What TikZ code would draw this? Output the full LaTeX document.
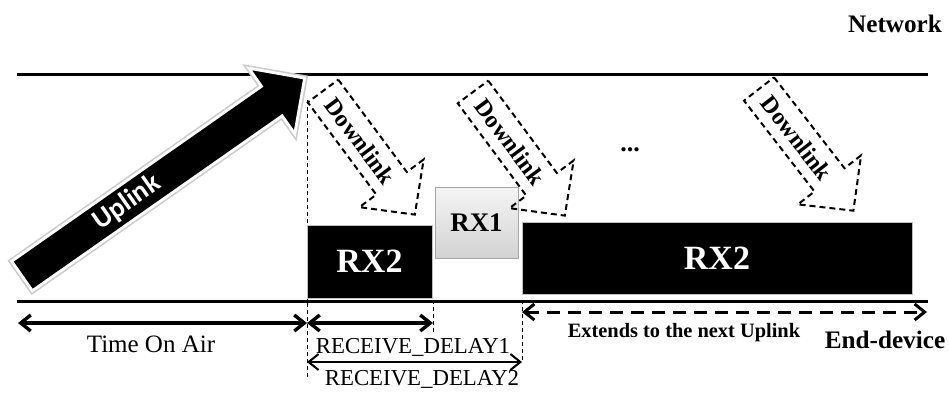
\documentclass[tikz,border=0pt]{standalone}
\usepackage{fontspec}
\setmainfont{Liberation Serif}
\newfontfamily\upfont{Carlito}
\usetikzlibrary{arrows.meta}

\tikzset{
  rxdark/.style={draw=gray!50, fill=black, text=white, inner sep=0pt, outer sep=0pt,
    font=\bfseries\fontsize{17}{17}\selectfont},
  rxlight/.style={draw=gray!70, top color=gray!8, bottom color=gray!35, inner sep=0pt,
    outer sep=0pt, font=\bfseries\fontsize{13.4}{13.4}\selectfont},
  timespan/.style={line width=1.7pt,
    {Straight Barb[length=5pt,width=8pt]}-{Straight Barb[length=5pt,width=8pt]}},
  guide/.style={line width=0.5pt, dash pattern=on 2pt off 1.5pt},
  dlarrow/.style={line width=1pt, dash pattern=on 3pt off 2pt, line join=miter},
  lbl/.style={anchor=base, inner sep=0pt},
}

\begin{document}
\begin{tikzpicture}[x=0.5pt, y=-0.5pt]
\useasboundingbox (0,0) rectangle (949,392);

% network and end-device lines
\draw[line width=1.5pt] (17,74) -- (928,74);
\draw[line width=1.5pt] (17,301) -- (928,301);

% guide lines
\coordinate (ga) at (307,100);  \coordinate (gb) at (307,380);
\coordinate (gc) at (433,300);  \coordinate (gd) at (433,333);
\coordinate (ge) at (522,300);  \coordinate (gf) at (522,362);
\draw[guide] (ga) -- (gb);
\draw[guide] (gc) -- (gd);
\draw[guide] (ge) -- (gf);

% receive windows
\node[rxdark, minimum width=62.5pt, minimum height=36.5pt] (rx2a) at (369.5,261.5) {RX2};
\node[rxlight, minimum width=41.5pt, minimum height=35.5pt] (rx1) at (476.5,222.5) {RX1};
\node[rxdark, minimum width=195pt, minimum height=36pt] (rx2b) at (717,258) {RX2};

% time spans
\coordinate (t0) at (18,323);
\coordinate (t1) at (307,323);
\coordinate (t2) at (433,323);
\coordinate (t3) at (307,362);
\coordinate (t4) at (522,362);
\coordinate (t5) at (522,312);
\coordinate (t6) at (927,312);
\draw[timespan] (t0) -- (t1);
\draw[timespan] (t1) -- (t2);
\draw[timespan, line width=1pt] (t3) -- (t4);
\draw[timespan, line width=1.5pt, dash pattern=on 6.5pt off 4pt] (t5) -- (t6);

% downlinks
\foreach \x/\y/\a [count=\i] in {323/91/-53.4, 473/92/-53.4, 759/89/-52.2}{
  \begin{scope}[shift={(\x,\y)}, rotate=\a]
    \draw[dlarrow] (0,-19) -- (115,-19) -- (115,-40) -- (154,0) -- (115,40)
      -- (115,19) -- (0,19) -- cycle;
    \node[rotate=\a, font=\bfseries\fontsize{12}{12}\selectfont] (dl\i) at (62,0) {Downlink};
  \end{scope}
}

% uplink
\begin{scope}[shift={(22,276)}, rotate=35]
  \filldraw[fill=black, draw=white, line width=1.4pt,
    preaction={draw=gray!40, line width=3pt}]
    (0,-18) -- (305,-18) -- (305,-40) -- (345,0) -- (305,40) -- (305,18) -- (0,18) -- cycle;
  \node[rotate=35, text=white, font=\upfont\bfseries\fontsize{14}{14}\selectfont] (up) at (128,0) {Uplink};
\end{scope}

% labels
\node[lbl, font=\bfseries\fontsize{12.6}{12.6}\selectfont] (net) at (895,32) {Network};
\node[lbl, font=\bfseries\fontsize{12.6}{12.6}\selectfont] (dev) at (885,348) {End-device};
\node[lbl, font=\bfseries\fontsize{10.2}{10.2}\selectfont] (ext) at (684,337) {Extends to the next Uplink};
\node[lbl, font=\fontsize{12.5}{12.5}\selectfont] (toa) at (151,352) {Time On Air};
\node[lbl, font=\fontsize{11.4}{11.4}\selectfont] (rd1) at (413,353) {RECEIVE\_DELAY1};
\node[lbl, font=\fontsize{11.4}{11.4}\selectfont] (rd2) at (422,385) {RECEIVE\_DELAY2};
\node[font=\bfseries\fontsize{13}{13}\selectfont] (dots) at (630,150) {...};

\end{tikzpicture}
\end{document}
